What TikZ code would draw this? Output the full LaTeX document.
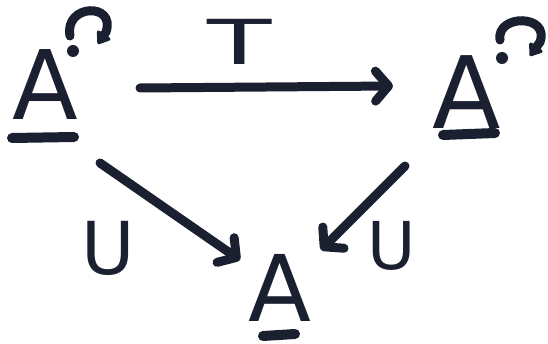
\documentclass[tikz,border=0pt]{standalone}
\usepackage{fontspec}
\setmainfont{DejaVu Sans}
\usetikzlibrary{arrows.meta}
\definecolor{ink}{HTML}{1B2030}
\tikzset{
  lbl/.style={inner sep=0pt, text=ink},
  conn/.style={draw=ink, line width=9pt, line cap=round, line join=round,
    -{Straight Barb[length=13pt,width=30pt,round]}},
  bar/.style={draw=ink, line width=10pt, line cap=round},
  hook/.style={draw=ink, line width=9pt, line cap=round,
    -{Triangle[length=13pt,width=18pt,round]}},
}
\begin{document}
\begin{tikzpicture}[x=1pt,y=-1pt]
\useasboundingbox (0,0) rectangle (548,344);
% objects
\node[lbl, font=\fontsize{96}{96}\selectfont] (a1) at (45,85) {A};
\node[lbl, font=\fontsize{100}{100}\selectfont] (a2) at (467,92) {A};
\node[lbl, font=\fontsize{92}{92}\selectfont] (a3) at (280,288) {A};
% labels
\node[lbl, font=\fontsize{62}{62}\selectfont] (t) at (240,42) {\scalebox{1.7}[1]{T}};
\node[lbl, font=\fontsize{73}{73}\selectfont] (u1) at (108,248) {U};
\node[lbl, font=\fontsize{66}{66}\selectfont] (u2) at (392,246) {U};
% underlines
\coordinate (l1a) at (12,138); \coordinate (l1b) at (74,137);
\coordinate (l2a) at (443,135); \coordinate (l2b) at (495,133);
\coordinate (l3a) at (263,336); \coordinate (l3b) at (295,334);
\draw[bar] (l1a) -- (l1b);
\draw[bar] (l2a) -- (l2b);
\draw[bar] (l3a) -- (l3b);
% superscripts
\fill[ink] (73,51) circle (6);
\draw[hook] (70,36) .. controls (64,4) and (116,2) .. (106,32) -- (98,44);
\fill[ink] (502,58) circle (6);
\draw[hook] (500,40) .. controls (496,14) and (550,14) .. (540,42) -- (530,56);
% connectors
\coordinate (s1) at (140,88); \coordinate (e1) at (393,86);
\coordinate (s2) at (100,163); \coordinate (e2) at (240,260);
\coordinate (s3) at (405,166); \coordinate (e3) at (321,250);
\draw[conn] (s1) -- (e1);
\draw[conn] (s2) -- (e2);
\draw[conn] (s3) -- (e3);
\end{tikzpicture}
\end{document}
